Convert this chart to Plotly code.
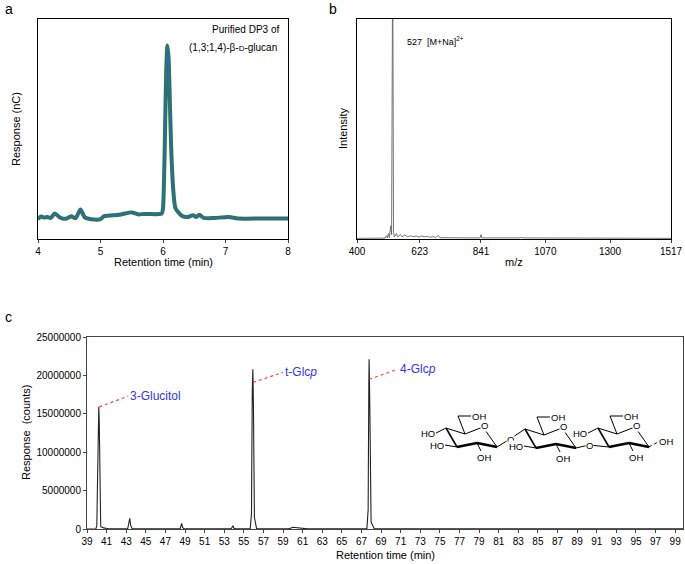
import plotly.graph_objects as go

W, H = 685, 564

# panel a - HPAEC-PAD chromatogram (arbitrary response units)
a_time = [4.0, 4.05, 4.1, 4.15, 4.2, 4.27, 4.35, 4.45, 4.53, 4.6, 4.68, 4.75, 4.85,
          5.0, 5.06, 5.3, 5.5, 5.6, 5.7, 5.9, 5.98, 6.0, 6.03, 6.05, 6.07, 6.09,
          6.11, 6.13, 6.16, 6.2, 6.3, 6.4, 6.48, 6.53, 6.58, 6.65, 6.8, 7.05, 7.2, 7.6, 8.0]
a_resp = [9.0, 10.2, 9.8, 10.0, 9.5, 11.6, 9.8, 9.2, 10.3, 9.4, 13.4, 9.8, 9.0,
          9.0, 10.4, 11.0, 12.1, 11.2, 11.4, 11.3, 11.6, 14.0, 45.0, 75.0, 88.0, 82.0,
          62.0, 42.0, 24.0, 14.0, 10.6, 10.0, 10.8, 10.0, 11.0, 9.6, 9.5, 10.0, 9.3, 9.3, 9.3]

# panel b - mass spectrum
b_mz = [400, 500, 505, 508, 512, 515, 520, 523, 527, 530, 533, 540, 545, 555, 560, 570,
        580, 590, 600, 610, 620, 630, 640, 650, 660, 670, 680, 690, 695, 720, 800,
        838, 841, 844, 980, 983, 986, 1517]
b_int = [0.3, 0.4, 1.5, 0.5, 2.5, 0.6, 6.0, 2.0, 130, 3.0, 1.0, 2.5, 1.0, 2.0, 1.0, 1.8,
         1.0, 1.5, 1.0, 1.3, 0.9, 1.4, 1.0, 1.2, 0.8, 1.1, 0.7, 1.6, 0.6, 0.5, 0.5,
         0.5, 2.0, 0.5, 0.5, 0.9, 0.5, 0.3]
b_ticks = [400, 623, 841, 1070, 1300, 1517]

# panel c - GC-MS of PMAAs
c_time = [39.0, 39.9, 40.0, 40.1, 40.2, 40.25, 40.3, 40.4, 40.7, 41.2, 43.15, 43.3, 43.36,
          43.45, 43.6, 48.5, 48.62, 48.66, 48.75, 48.9, 53.7, 53.83, 53.9, 53.98, 54.1,
          55.65, 55.78, 55.86, 55.92, 55.98, 56.08, 56.3, 59.6, 60.0, 60.4, 61.0, 61.5,
          67.55, 67.68, 67.75, 67.78, 67.86, 67.98, 68.3, 72.0, 72.3, 72.6, 99.8]
c_resp = [0, 20000, 400000, 9000000, 15900000, 14000000, 5000000, 300000, 150000, 30000,
          30000, 900000, 1390000, 500000, 30000, 20000, 500000, 740000, 200000, 20000,
          20000, 300000, 430000, 120000, 20000, 20000, 2000000, 18000000, 20800000,
          16000000, 1500000, 50000, 20000, 220000, 180000, 60000, 20000, 20000,
          2500000, 19000000, 22100000, 15000000, 900000, 40000, 20000, 110000, 20000, 10000]
c_ticks = list(range(39, 100, 2))
c_yticks = [0, 5000000, 10000000, 15000000, 20000000, 25000000]

peak_names = ["3-Glucitol", "t-Glc<i>p</i>", "4-Glc<i>p</i>"]
peak_x = [40.25, 55.95, 67.8]
peak_y = [15900000, 19100000, 19500000]
label_x = [43.2, 59.0, 70.7]
label_y = [17300000, 20400000, 20800000]

FONT = "Liberation Sans, Arial, sans-serif"


def px(x):
    return x / W


def py(y):
    return 1 - y / H


fig = go.Figure()
fig.add_trace(go.Scatter(x=a_time, y=a_resp, mode="lines", xaxis="x", yaxis="y",
                         line=dict(color="#2a7a3c", width=4, shape="spline", smoothing=0.6)))
fig.add_trace(go.Scatter(x=a_time, y=a_resp, mode="lines", xaxis="x", yaxis="y",
                         line=dict(color="#2f68b0", width=1.8, shape="spline", smoothing=0.6)))
fig.add_trace(go.Scatter(x=b_mz, y=b_int, mode="lines", xaxis="x2", yaxis="y2",
                         line=dict(color="#666666", width=0.9)))
fig.add_trace(go.Scatter(x=c_time, y=c_resp, mode="lines", xaxis="x3", yaxis="y3",
                         line=dict(color="#222222", width=1.1)))

axis_common = dict(showline=True, mirror=True, linecolor="black", showgrid=False,
                   zeroline=False, automargin=False, tickfont=dict(size=10, color="black"))

fig.update_layout(
    width=W, height=H, margin=dict(l=0, r=0, t=0, b=0, autoexpand=False),
    plot_bgcolor="white", paper_bgcolor="white", showlegend=False,
    font=dict(family=FONT, color="black"),
    xaxis=dict(axis_common, domain=[px(38), px(288)], range=[4, 8], dtick=1,
               ticks="outside", ticklen=3, linewidth=1.4, anchor="y"),
    yaxis=dict(axis_common, domain=[py(239), py(19)], range=[0, 100],
               showticklabels=False, linewidth=1.4, anchor="x"),
    xaxis2=dict(axis_common, domain=[px(357), px(671)], range=[400, 1517],
                tickvals=b_ticks, ticks="outside", ticklen=3, linewidth=1.2, anchor="y2"),
    yaxis2=dict(axis_common, domain=[py(239), py(19)], range=[0, 100],
                showticklabels=False, linewidth=1.2, anchor="x2"),
    xaxis3=dict(axis_common, domain=[px(87), px(683)], range=[39, 99.8],
                tickvals=c_ticks, ticks="outside", ticklen=3, linecolor="#444444",
                linewidth=1, anchor="y3"),
    yaxis3=dict(axis_common, domain=[py(529), py(337)], range=[0, 25000000],
                tickvals=c_yticks, ticktext=[str(v) for v in c_yticks],
                ticks="outside", ticklen=3, linecolor="#444444", linewidth=1, anchor="x3"),
)

ann = []


def text(x, y, s, size=11, xanchor="center", **kw):
    ann.append(dict(x=px(x), y=py(y), xref="paper", yref="paper", text=s,
                    showarrow=False, xanchor=xanchor, yanchor="middle",
                    font=dict(size=size, color=kw.pop("color", "black"), family=FONT), **kw))


# panel letters and axis titles
text(3, 9, "a", 14, "left")
text(327, 9, "b", 14, "left")
text(3, 317, "c", 14, "left")
text(163, 262, "Retention time (min)", 11)
text(16, 129, "Response (nC)", 11, textangle=-90)
text(514, 262, "m/z", 11)
text(343, 129, "Intensity", 11, textangle=-90)
text(385, 555, "Retention time (min)", 11)
text(26, 433, "Response  (counts)", 11, textangle=-90)
text(281, 29, "Purified DP3 of", 10, "right")
text(279, 47, "(1,3;1,4)-\u03b2-<span style='font-size:8px'>D</span>-glucan", 10, "right")
ann.append(dict(x=570, y=90, xref="x2", yref="y2", text="527  [M+Na]<sup>2+</sup>",
                showarrow=False, xanchor="left", font=dict(size=9, family=FONT)))

shapes = []
for name, x0, y0, x1, y1 in zip(peak_names, peak_x, peak_y, label_x, label_y):
    shapes.append(dict(type="line", xref="x3", yref="y3", x0=x0, y0=y0, x1=x1, y1=y1,
                       line=dict(color="#ff3b3b", width=1.2, dash="dot")))
    ann.append(dict(x=x1, y=y1, xref="x3", yref="y3", text=name, showarrow=False,
                    xanchor="left", font=dict(size=12, color="#3535e8", family=FONT)))

# trisaccharide structure (drawn in pixel space)
ring = {"C4": (0, 0), "C5": (19, 6), "O5": (37, -1), "C1": (51, 19), "C2": (31, 15), "C3": (11, 19)}


def seg(p, q, w=1.0):
    shapes.append(dict(type="line", xref="paper", yref="paper", x0=px(p[0]), y0=py(p[1]),
                       x1=px(q[0]), y1=py(q[1]), line=dict(color="black", width=w)))


def atom(x, y, s, anchor="center"):
    text(x, y, s, 9.5, anchor, bgcolor="white", borderpad=0)


origins = [(446, 428), (525, 429), (598, 428)]
for i, (ox, oy) in enumerate(origins):
    P = {k: (ox + v[0], oy + v[1]) for k, v in ring.items()}
    seg(P["C4"], P["C5"]); seg(P["C5"], P["O5"]); seg(P["O5"], P["C1"])
    seg(P["C1"], P["C2"], 2.6); seg(P["C2"], P["C3"], 2.6); seg(P["C3"], P["C4"], 1.6)
    c6 = (ox + 12, oy - 12)
    seg(P["C5"], c6); seg(c6, (ox + 25, oy - 12))
    atom(ox + 25, oy - 12, "OH", "left")
    atom(P["O5"][0] + 1, P["O5"][1] - 2, "O")
    seg(P["C2"], (ox + 35, oy + 23))
    atom(ox + 30, oy + 29, "OH", "left")
    if i != 1:
        seg(P["C4"], (ox - 10, oy + 5))
        atom(ox - 10, oy + 5, "HO", "right")
    if i != 2:
        seg(P["C3"], (ox - 1, oy + 17))
        atom(ox - 1, oy + 17, "HO", "right")
    if i < 2:
        nx, ny = origins[i + 1]
        o = (P["C1"][0] + 13, P["C1"][1] - 8) if i == 0 else (P["C1"][0] + 13, P["C1"][1] - 3)
        seg(P["C1"], o)
        seg(o, (nx, ny) if i == 0 else (nx + 11, ny + 19))
        atom(o[0], o[1], "O")
    else:
        shapes.append(dict(type="line", xref="paper", yref="paper", x0=px(P["C1"][0]),
                           y0=py(P["C1"][1]), x1=px(P["C1"][0] + 9), y1=py(P["C1"][1] - 5),
                           line=dict(color="black", width=1, dash="dot")))
        atom(P["C1"][0] + 9, P["C1"][1] - 6, "OH", "left")

fig.update_layout(annotations=ann, shapes=shapes)
fig.write_html("out.html", config={"displayModeBar": False},
               post_script="document.body.style.margin='0';")
